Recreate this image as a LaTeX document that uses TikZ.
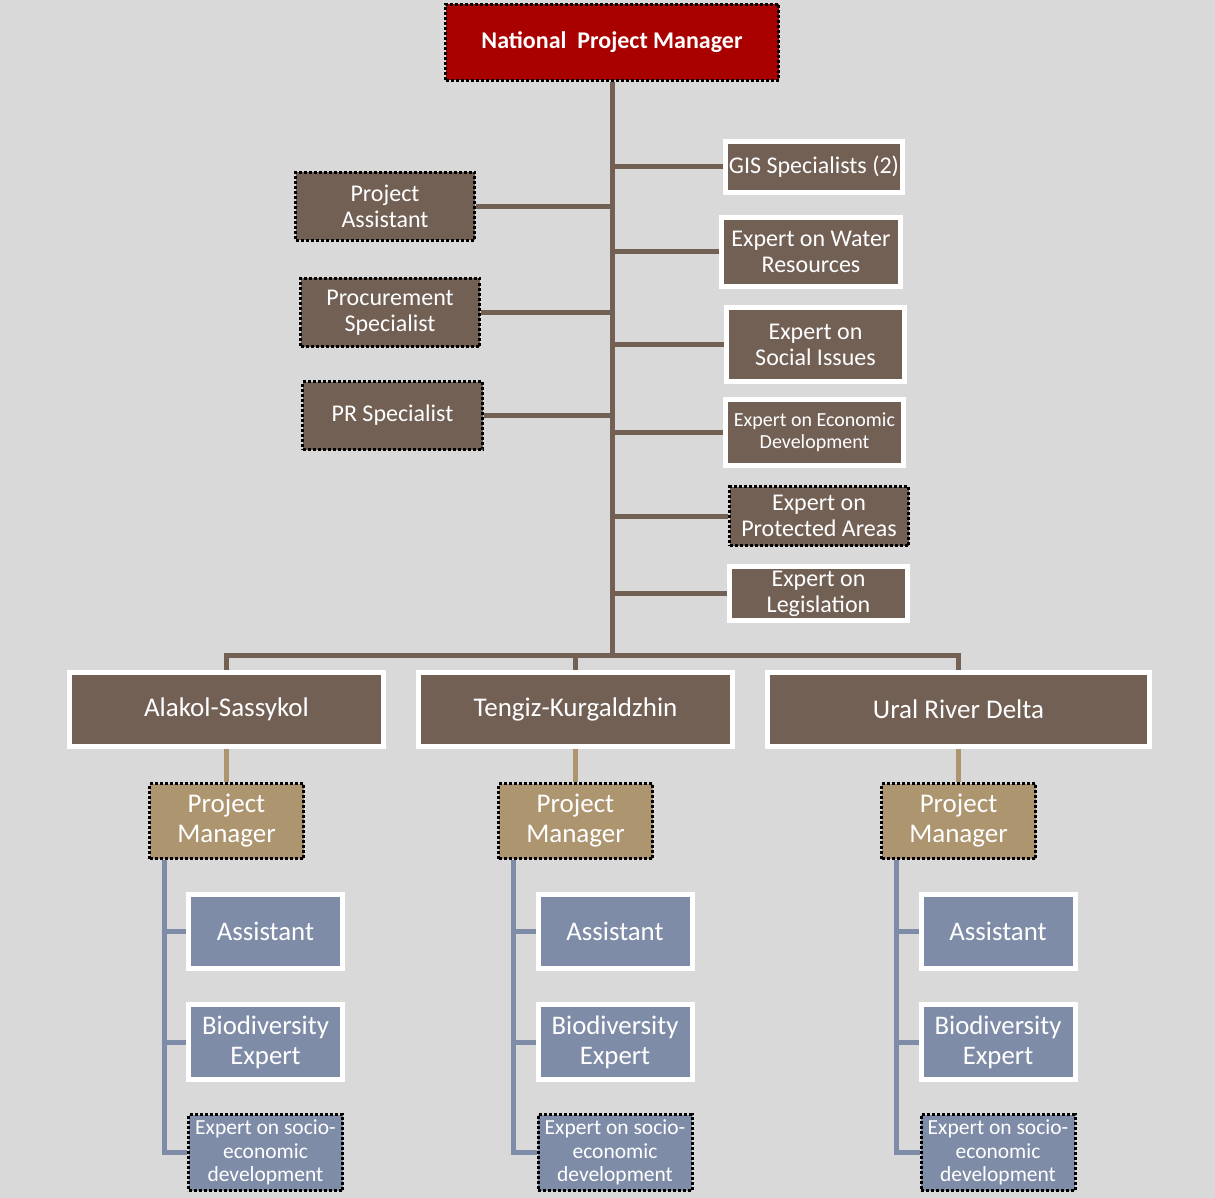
\documentclass[tikz,border=0pt]{standalone}
\usepackage{fontspec}
\setmainfont{Carlito}
\usepackage{tikz}
\usetikzlibrary{positioning, calc}
\definecolor{bgGray}{HTML}{D9D9D9}
\definecolor{npmRed}{HTML}{A90000}
\definecolor{boxBrown}{HTML}{726055}
\definecolor{boxTan}{HTML}{AD9570}
\definecolor{boxBlue}{HTML}{7F8CA8}
\tikzset{
  lineBrown/.style={draw=boxBrown, line width=5pt},
  lineTan/.style={draw=boxTan, line width=5pt},
  lineBlue/.style={draw=boxBlue, line width=5pt},
  edgeWhite/.style={draw=white, line width=5pt},
  edgeDots/.style={draw=black, line width=3pt, dash pattern=on 3pt off 2pt},
  boxNPM/.style={rectangle, edgeDots, fill=npmRed, text=white, align=center,
                 font=\bfseries\fontsize{24}{28}\selectfont, inner sep=2pt,
                 minimum width=333pt, minimum height=76pt},
  boxB/.style={rectangle, fill=boxBrown, text=white, align=center,
               font=\fontsize{24}{26}\selectfont, inner sep=2pt,
               minimum width=178pt},
  boxRegion/.style={rectangle, edgeWhite, fill=boxBrown, text=white, align=center,
                    font=\fontsize{27}{30}\selectfont, inner sep=2pt,
                    minimum width=314pt, minimum height=74pt},
  boxPM/.style={rectangle, edgeDots, fill=boxTan, text=white, align=center,
                font=\fontsize{27}{30}\selectfont, inner sep=2pt,
                minimum width=154pt, minimum height=75pt},
  boxSub/.style={rectangle, edgeWhite, fill=boxBlue, text=white, align=center,
                 font=\fontsize{26.8}{30}\selectfont, inner sep=2pt,
                 minimum width=154pt, minimum height=74pt},
  boxSocio/.style={rectangle, edgeDots, fill=boxBlue, text=white, align=center,
                   font=\fontsize{21.5}{23.5}\selectfont, inner sep=2pt,
                   minimum width=154pt, minimum height=76pt},
}

\begin{document}
\begin{tikzpicture}[x=1pt, y=-1pt]
    \fill[bgGray] (0,0) rectangle (1215,1198);
    % top
    \node[boxNPM] (npm) at (612,42.5) {National\ \ Project Manager};
    % staff on the left
    \node[boxB, edgeDots, minimum width=179pt, minimum height=68pt] (pa) at (385,206.5) {Project\\Assistant};
    \node[boxB, edgeDots, minimum width=179pt, minimum height=68pt] (proc) at (390,312.5) {Procurement\\Specialist};
    \node[boxB, edgeDots, minimum width=180pt, minimum height=68pt] (pr) at (392.5,415.5) {PR Specialist};
    % experts on the right
    \node[boxB, edgeWhite, minimum width=177pt, minimum height=51pt] (gis) at (814,167) {GIS Specialists (2)};
    \node[boxB, edgeWhite, minimum width=179pt, minimum height=69pt] (water) at (811,252) {Expert on Water\\Resources};
    \node[boxB, edgeWhite, minimum height=74pt] (social) at (815.5,344.5) {Expert on\\Social Issues};
    \node[boxB, edgeWhite, minimum height=66pt, font=\fontsize{20}{22}\selectfont] (econ) at (814.5,432.5) {Expert on Economic\\Development};
    \node[boxB, edgeDots, minimum width=179pt, minimum height=59pt] (prot) at (819,516) {Expert on\\Protected Areas};
    \node[boxB, edgeWhite, minimum height=54pt] (legis) at (818.5,593.5) {Expert on\\Legislation};
    % regions
    \node[boxRegion] (regA) at (226.5,709.5) {Alakol-Sassykol};
    \node[boxRegion] (regB) at (575.5,709.5) {Tengiz-Kurgaldzhin};
    \node[boxRegion, minimum width=382pt] (regC) at (958.5,709.5) {Ural River Delta};
    \node[boxPM] (pmA) at (226.5,821) {Project\\Manager};
    \node[boxPM] (pmB) at (575.5,821) {Project\\Manager};
    \node[boxPM] (pmC) at (958.5,821) {Project\\Manager};
    \node[boxSub] (asA) at (265.5,931) {Assistant};
    \node[boxSub, minimum height=75pt] (bdA) at (265.5,1042) {Biodiversity\\Expert};
    \node[boxSocio] (seA) at (265.5,1152.5) {Expert on socio-\\economic\\development};
    \node[boxSub] (asB) at (615,931) {Assistant};
    \node[boxSub, minimum height=75pt] (bdB) at (615,1042) {Biodiversity\\Expert};
    \node[boxSocio] (seB) at (615,1152.5) {Expert on socio-\\economic\\development};
    \node[boxSub] (asC) at (998,931) {Assistant};
    \node[boxSub, minimum height=75pt] (bdC) at (998,1042) {Biodiversity\\Expert};
    \node[boxSocio] (seC) at (998,1152.5) {Expert on socio-\\economic\\development};
    % connectors
    \coordinate (hub) at (612,655);
    \draw[lineBrown] (npm.south) -- (hub);
    \draw[lineBrown] (pa.east) -- (pa.east -| npm.south);
    \draw[lineBrown] (proc.east) -- (proc.east -| npm.south);
    \draw[lineBrown] (pr.east) -- (pr.east -| npm.south);
    \draw[lineBrown] (gis.west) -- (gis.west -| npm.south);
    \draw[lineBrown] (water.west) -- (water.west -| npm.south);
    \draw[lineBrown] (social.west) -- (social.west -| npm.south);
    \draw[lineBrown] (econ.west) -- (econ.west -| npm.south);
    \draw[lineBrown] (prot.west) -- (prot.west -| npm.south);
    \draw[lineBrown] (legis.west) -- (legis.west -| npm.south);
    \draw[lineBrown] (regA.north) |- (hub) -| (regC.north);
    \draw[lineBrown] (regB.north) -- (regB.north |- hub);
    \draw[lineTan] (regA.south) -- (pmA.north);
    \draw[lineTan] (regB.south) -- (pmB.north);
    \draw[lineTan] (regC.south) -- (pmC.north);
    \coordinate (spA) at ($(pmA.south west)+(16,0)$);
    \coordinate (spB) at ($(pmB.south west)+(16,0)$);
    \coordinate (spC) at ($(pmC.south west)+(16,0)$);
    \draw[lineBlue] (spA) |- (seA.west);
    \draw[lineBlue] (asA.west) -- (asA.west -| spA);
    \draw[lineBlue] (bdA.west) -- (bdA.west -| spA);
    \draw[lineBlue] (spB) |- (seB.west);
    \draw[lineBlue] (asB.west) -- (asB.west -| spB);
    \draw[lineBlue] (bdB.west) -- (bdB.west -| spB);
    \draw[lineBlue] (spC) |- (seC.west);
    \draw[lineBlue] (asC.west) -- (asC.west -| spC);
    \draw[lineBlue] (bdC.west) -- (bdC.west -| spC);
\end{tikzpicture}
\end{document}
